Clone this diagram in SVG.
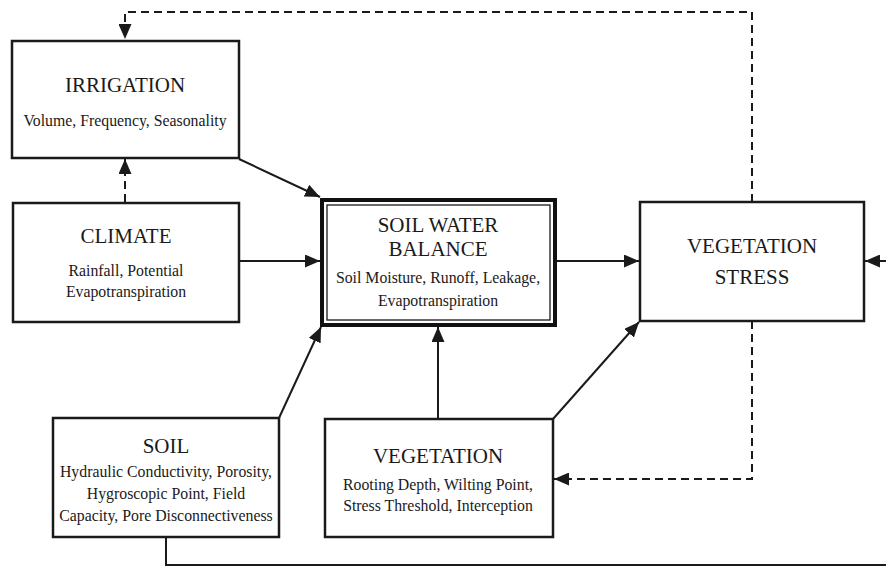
<svg xmlns="http://www.w3.org/2000/svg" width="886" height="568" viewBox="0 0 886 568">
<style>
.box{fill:#fff;stroke:#1a1a1a;stroke-width:2.5}
.t{font-family:"Liberation Serif","Times New Roman",serif;font-size:21px;fill:#1a1a1a;text-anchor:middle}
.s{font-family:"Liberation Serif","Times New Roman",serif;font-size:15.8px;fill:#1a1a1a;text-anchor:middle}
.c{fill:none;stroke:#1a1a1a;stroke-width:2}
.d{stroke-dasharray:8 5}
</style>
<defs>
<marker id="ah" markerUnits="userSpaceOnUse" markerWidth="15" markerHeight="13" refX="15" refY="6.5" orient="auto">
<path d="M0,0 L15,6.5 L0,13 Z" fill="#1a1a1a" stroke="none"/>
</marker>
</defs>
<rect width="886" height="568" fill="#fff"/>
<g id="connectors">
<path class="c d" d="M752,202 V12 H125 V39" marker-end="url(#ah)"/>
<path class="c d" d="M125,202 V159" marker-end="url(#ah)"/>
<path class="c" d="M239,159 L320,197" marker-end="url(#ah)"/>
<path class="c" d="M239,261 H320" marker-end="url(#ah)"/>
<path class="c" d="M279,418 L321,327" marker-end="url(#ah)"/>
<path class="c" d="M438,419 V327" marker-end="url(#ah)"/>
<path class="c" d="M557,261 H639" marker-end="url(#ah)"/>
<path class="c" d="M553,419 L639,322" marker-end="url(#ah)"/>
<path class="c d" d="M752,321 V479 H554" marker-end="url(#ah)"/>
<path class="c" d="M166,537 V565 H889 V261 H865" marker-end="url(#ah)"/>
</g>
<g id="irrigation">
<rect class="box" x="12" y="41" width="227" height="117"/>
<text class="t" x="125" y="92">IRRIGATION</text>
<text class="s" x="125" y="126">Volume, Frequency, Seasonality</text>
</g>
<g id="climate">
<rect class="box" x="13" y="203" width="226" height="119"/>
<text class="t" x="126" y="243">CLIMATE</text>
<text class="s" x="126" y="276">Rainfall, Potential</text>
<text class="s" x="126" y="297">Evapotranspiration</text>
</g>
<g id="soil-water-balance">
<rect x="322" y="200" width="233" height="125" fill="#fff" stroke="#111" stroke-width="4"/>
<rect x="327" y="205" width="223" height="115" fill="none" stroke="#1a1a1a" stroke-width="1.3"/>
<text class="t" x="438" y="232">SOIL WATER</text>
<text class="t" x="438" y="256">BALANCE</text>
<text class="s" x="438" y="283">Soil Moisture, Runoff, Leakage,</text>
<text class="s" x="438" y="306">Evapotranspiration</text>
</g>
<g id="vegetation-stress">
<rect class="box" x="640" y="202" width="224" height="119"/>
<text class="t" x="752" y="253">VEGETATION</text>
<text class="t" x="752" y="284">STRESS</text>
</g>
<g id="soil">
<rect class="box" x="53" y="418" width="226" height="119"/>
<text class="t" x="166" y="453">SOIL</text>
<text class="s" x="166" y="477">Hydraulic Conductivity, Porosity,</text>
<text class="s" x="166" y="499">Hygroscopic Point, Field</text>
<text class="s" x="166" y="521">Capacity, Pore Disconnectiveness</text>
</g>
<g id="vegetation">
<rect class="box" x="325" y="419" width="228" height="118"/>
<text class="t" x="438" y="463">VEGETATION</text>
<text class="s" x="438" y="490">Rooting Depth, Wilting Point,</text>
<text class="s" x="438" y="511">Stress Threshold, Interception</text>
</g>
</svg>
